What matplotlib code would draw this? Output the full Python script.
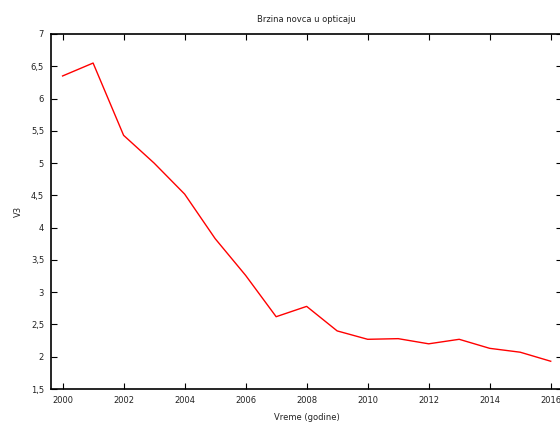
import matplotlib
matplotlib.use("Agg")
import matplotlib.pyplot as plt
from matplotlib.ticker import FuncFormatter, MultipleLocator

years = list(range(2000, 2017))
v3 = [6.35, 6.55, 5.43, 5.00, 4.52, 3.83, 3.26, 2.62, 2.78,
      2.40, 2.27, 2.28, 2.20, 2.27, 2.13, 2.07, 1.93]

TITLE = "Brzina novca u opticaju"
XLABEL = "Vreme (godine)"
YLABEL = "V3"

fig = plt.figure(figsize=(5.6, 4.23), dpi=100)
ax = fig.add_axes([51 / 560, 1 - 389 / 423, 511 / 560, 355 / 423])

ax.plot(years, v3, color="#ff0000", linewidth=1.0)

ax.set_xlim(1999.62, 2016.37)
ax.set_ylim(1.5, 7)
ax.xaxis.set_major_locator(MultipleLocator(2))
ax.yaxis.set_major_locator(MultipleLocator(0.5))


def comma(v, pos):
    s = f"{v:g}"
    return s.replace(".", ",")


ax.yaxis.set_major_formatter(FuncFormatter(comma))
ax.tick_params(direction="in", length=4, width=0.8, labelsize=6,
               top=True, right=True, colors="black", labelcolor="#222222", pad=5)
for sp in ax.spines.values():
    sp.set_linewidth(1.2)

ax.set_title(TITLE, fontsize=6, pad=9, color="#222222")
ax.set_xlabel(XLABEL, fontsize=6, labelpad=6, color="#222222")
ax.set_ylabel(YLABEL, fontsize=6, labelpad=6, color="#222222")

fig.savefig("out.png", dpi=100)
